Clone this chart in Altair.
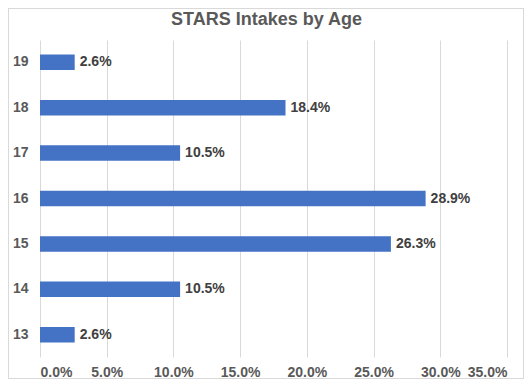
import altair as alt
import pandas as pd

ages = ["13", "14", "15", "16", "17", "18", "19"]
shares = [0.026, 0.105, 0.263, 0.289, 0.105, 0.184, 0.026]
x_ticks = [0, 0.05, 0.10, 0.15, 0.20, 0.25, 0.30, 0.35]
title_text = "STARS Intakes by Age"

df = pd.DataFrame({"age": ages, "share": shares})

FONT = "Liberation Sans"
W, H = 467, 317
PAD = {"left": 32, "top": 32, "right": 17, "bottom": 22}

y_enc = alt.Y(
    "age:N",
    sort=list(reversed(ages)),
    scale=alt.Scale(paddingInner=0.66, paddingOuter=0.32),
    axis=alt.Axis(title=None, ticks=False, domain=False, labelPadding=12,
                  labelFont=FONT, labelFontSize=14, labelFontWeight="bold",
                  labelColor="#595959", grid=False),
)
x_enc = alt.X(
    "share:Q",
    scale=alt.Scale(domain=[0, 0.35], nice=False),
    axis=alt.Axis(title=None, values=x_ticks, format=".1%", ticks=False, domain=False,
                  labelPadding=8, labelFont=FONT, labelFontSize=14, labelFontWeight="bold",
                  labelColor="#595959", grid=True, gridColor="#D9D9D9", gridWidth=1),
)

bars = alt.Chart(df).mark_bar(color="#4472C4").encode(x=x_enc, y=y_enc)
labels = alt.Chart(df).mark_text(
    align="left", baseline="middle", dx=5, font=FONT, fontSize=14,
    fontWeight="bold", color="#404040"
).encode(x="share:Q", y=alt.Y("age:N", sort=list(reversed(ages))),
         text=alt.Text("share:Q", format=".1%"))

border = alt.Chart(df).mark_rect(
    fill=None, stroke="#D9D9D9", strokeWidth=1
).encode(
    x=alt.value(-PAD["left"] + 0.5), x2=alt.value(W + PAD["right"] - 0.5),
    y=alt.value(-PAD["top"] + 0.5), y2=alt.value(H + PAD["bottom"] - 0.5),
)

title = alt.Chart(pd.DataFrame({"t": [title_text]})).mark_text(
    align="center", baseline="middle", font=FONT, fontSize=18,
    fontWeight="bold", color="#595959"
).encode(text="t:N", x=alt.value(W / 2 - 7), y=alt.value(-20))

chart = alt.layer(border, bars, labels, title).properties(
    width=W, height=H,
    autosize=alt.AutoSizeParams(type="none"),
    padding=PAD,
).configure_view(stroke=None)

chart.save("out.html", embed_options={"renderer": "svg", "actions": False})
